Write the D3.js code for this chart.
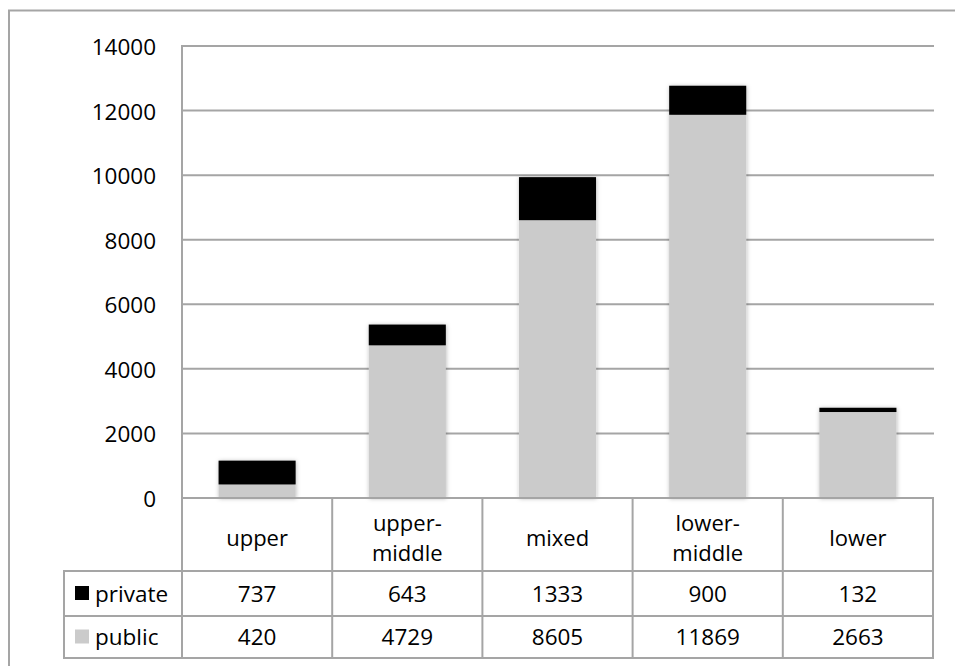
<!DOCTYPE html>
<html>
<head>
<meta charset="utf-8">
<script src="https://cdn.jsdelivr.net/npm/d3@7"></script>
<style>
  html, body { margin: 0; padding: 0; background: #fff; }
  svg { display: block; }
  text { font-family: "Open Sans", "Liberation Sans", sans-serif; fill: #000; }
</style>
</head>
<body>
<svg id="chart" width="955" height="666"></svg>
<script>
// Household groups and their counts by school type
const categories = ["upper", "upper-middle", "mixed", "lower-middle", "lower"];
const categoryLines = [["upper"], ["upper-", "middle"], ["mixed"], ["lower-", "middle"], ["lower"]];
const publicValues = [420, 4729, 8605, 11869, 2663];
const privateValues = [737, 643, 1333, 900, 132];
const seriesNames = ["private", "public"];
const yTicks = [0, 2000, 4000, 6000, 8000, 10000, 12000, 14000];

const svg = d3.select("#chart");
const W = 955, H = 666;
const FS = 22.5;

const gridColor = "#a5a5a5";
const publicColor = "#cbcbcb";
const privateColor = "#000000";

// Plot frame
const plotLeft = 182, plotRight = 933, plotTop = 46, plotBottom = 498;
const tableLeft = 64;
const rowCat = [498, 571], rowPriv = [571, 616], rowPub = [616, 658];

// Outer chart border (runs past the visible area on the right and bottom)
svg.append("rect")
  .attr("x", 9).attr("y", 10.5)
  .attr("width", W + 20).attr("height", H + 20)
  .attr("fill", "none").attr("stroke", gridColor).attr("stroke-width", 2);

const x = d3.scaleBand()
  .domain(categories)
  .range([plotLeft, plotRight])
  .paddingInner(0.487)
  .paddingOuter(0.2435);

const y = d3.scaleLinear().domain([0, 14000]).range([plotBottom, plotTop]);

// Gridlines
svg.append("g").selectAll("line")
  .data(yTicks.filter(t => t > 0))
  .join("line")
  .attr("x1", plotLeft).attr("x2", plotRight + 1)
  .attr("y1", d => y(d)).attr("y2", d => y(d))
  .attr("stroke", gridColor).attr("stroke-width", 2);

// Y tick labels
svg.append("g").selectAll("text")
  .data(yTicks)
  .join("text")
  .attr("x", 156)
  .attr("y", d => y(d) + 3)
  .attr("text-anchor", "end")
  .attr("dominant-baseline", "middle")
  .attr("font-size", FS)
  .text(d => d);

// Soft shadow around the columns
const defs = svg.append("defs");
const f = defs.append("filter").attr("id", "shadow")
  .attr("x", "-20%").attr("y", "-5%").attr("width", "140%").attr("height", "110%");
f.append("feDropShadow")
  .attr("dx", 0.5).attr("dy", 0.5)
  .attr("stdDeviation", 2.2)
  .attr("flood-color", "#000").attr("flood-opacity", 0.28);

// Stacked columns: public on the bottom, private on top
const rows = categories.map((c, i) => ({ cat: c, public: publicValues[i], private: privateValues[i] }));
const stack = d3.stack().keys(["public", "private"])(rows);
const colors = { public: publicColor, private: privateColor };

const barG = svg.append("g").attr("filter", "url(#shadow)");
stack.forEach(layer => {
  barG.append("g").selectAll("rect")
    .data(layer)
    .join("rect")
    .attr("x", d => x(d.data.cat))
    .attr("width", x.bandwidth())
    .attr("y", d => y(d[1]))
    .attr("height", d => y(d[0]) - y(d[1]))
    .attr("fill", colors[layer.key]);
});

// Data table lines
const step = x.step();
const colEdges = categories.map((c, i) => plotLeft + i * step).concat([plotRight]);
const tbl = svg.append("g").attr("stroke", gridColor).attr("stroke-width", 2).attr("fill", "none");

// value axis line continues down through the table
tbl.append("line").attr("x1", plotLeft).attr("x2", plotLeft).attr("y1", plotTop - 1).attr("y2", rowPub[1] + 1);
// horizontal table rules
tbl.append("line").attr("x1", plotLeft - 1).attr("x2", plotRight + 1).attr("y1", rowCat[0]).attr("y2", rowCat[0]);
[rowPriv[0], rowPub[0], rowPub[1]].forEach(yy => {
  tbl.append("line").attr("x1", tableLeft).attr("x2", plotRight + 1).attr("y1", yy).attr("y2", yy);
});
// vertical column rules
colEdges.slice(1).forEach(xx => {
  tbl.append("line").attr("x1", xx).attr("x2", xx).attr("y1", rowCat[0]).attr("y2", rowPub[1] + 1);
});
tbl.append("line").attr("x1", tableLeft).attr("x2", tableLeft).attr("y1", rowPriv[0] - 1).attr("y2", rowPub[1] + 1);

// Category labels (one text per line, baselines set directly)
const catBase = 546;
const lineH = 29.5;
const catLines = [];
categories.forEach((c, i) => {
  const n = categoryLines[i].length;
  categoryLines[i].forEach((ln, k) => {
    catLines.push({ cat: c, text: ln, dy: (k - (n - 1) / 2) * lineH });
  });
});
svg.append("g").selectAll("text")
  .data(catLines)
  .join("text")
  .attr("x", d => x(d.cat) + x.bandwidth() / 2)
  .attr("y", d => catBase + d.dy)
  .attr("text-anchor", "middle")
  .attr("font-size", 22)
  .text(d => d.text);

// Value rows
const valueRows = [
  { key: "private", vals: privateValues, band: rowPriv, color: privateColor },
  { key: "public", vals: publicValues, band: rowPub, color: publicColor }
];
valueRows.forEach(r => {
  const mid = (r.band[0] + r.band[1]) / 2;
  svg.append("g").selectAll("text")
    .data(r.vals)
    .join("text")
    .attr("x", (d, i) => x(categories[i]) + x.bandwidth() / 2)
    .attr("y", mid + 2)
    .attr("text-anchor", "middle")
    .attr("dominant-baseline", "middle")
    .attr("font-size", FS)
    .text(d => d);
  // legend key and series name
  svg.append("rect")
    .attr("x", 75).attr("y", mid - 7.5)
    .attr("width", 14).attr("height", 14)
    .attr("fill", r.color);
  svg.append("text")
    .attr("x", 95).attr("y", mid + 2)
    .attr("dominant-baseline", "middle")
    .attr("font-size", FS)
    .text(r.key);
});
</script>
</body>
</html>
